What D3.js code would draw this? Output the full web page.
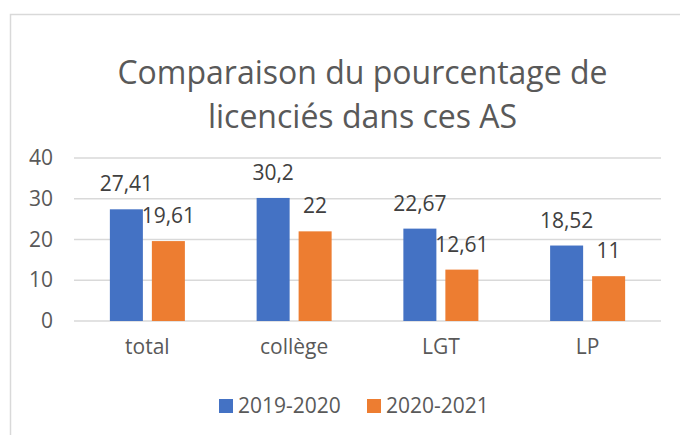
<!DOCTYPE html>
<html>
<head>
<meta charset="utf-8">
<script src="https://cdn.jsdelivr.net/npm/d3@7"></script>
<style>
  body { margin: 0; background: #fff; }
  text { font-family: "Open Sans", sans-serif; }
</style>
</head>
<body>
<script>
// data
const categories = ["total", "collège", "LGT", "LP"];
const seriesNames = ["2019-2020", "2020-2021"];
const values2019 = [27.41, 30.2, 22.67, 18.52];
const values2020 = [19.61, 22, 12.61, 11];
const labels2019 = ["27,41", "30,2", "22,67", "18,52"];
const labels2020 = ["19,61", "22", "12,61", "11"];
const yTicks = [0, 10, 20, 30, 40];
const titleLines = ["Comparaison du pourcentage de", "licenciés dans ces AS"];

const colours = ["#4472C4", "#ED7D31"];
const w = 680, h = 435;
const plotLeft = 74, plotRight = 661, plotTop = 158, plotBottom = 321;
const fs = "21px";

const rows = categories.map((c, i) => ({
  cat: c,
  vals: [
    {s: 0, v: values2019[i], lab: labels2019[i]},
    {s: 1, v: values2020[i], lab: labels2020[i]}
  ]
}));

const svg = d3.select("body").append("svg")
  .attr("width", w)
  .attr("height", h);

// chart frame (runs off the right and bottom edges)
svg.append("rect")
  .attr("x", 10.5).attr("y", 14.5)
  .attr("width", 700).attr("height", 460)
  .attr("fill", "none")
  .attr("stroke", "#d9d9d9")
  .attr("stroke-width", 1.5);

svg.append("g").selectAll("text")
  .data(titleLines)
  .join("text")
    .attr("x", (plotLeft + plotRight) / 2 - 5)
    .attr("y", (d, i) => 84 + i * 44)
    .attr("text-anchor", "middle")
    .attr("fill", "#595959")
    .style("font-size", "32px")
    .text(d => d);

const x0 = d3.scaleBand().domain(categories).range([plotLeft, plotRight]);
const x1 = d3.scaleBand().domain([0, 1]).range([0, x0.bandwidth()])
  .paddingInner(0.214).paddingOuter(0.854);
const y = d3.scaleLinear().domain([0, 40]).range([plotBottom, plotTop]);

// gridlines
svg.append("g").selectAll("line")
  .data(yTicks)
  .join("line")
    .attr("x1", plotLeft).attr("x2", plotRight)
    .attr("y1", d => y(d)).attr("y2", d => y(d))
    .attr("stroke", "#d9d9d9")
    .attr("stroke-width", 1.5);

// y axis labels
const yAxis = svg.append("g")
  .attr("transform", "translate(" + plotLeft + ",0)")
  .call(d3.axisLeft(y).tickValues(yTicks).tickSize(0).tickPadding(21));
yAxis.select(".domain").remove();
yAxis.selectAll("text")
  .attr("fill", "#595959")
  .style("font-size", fs)
  .style("font-family", "Open Sans");

// x axis labels
const xAxis = svg.append("g")
  .attr("transform", "translate(0," + plotBottom + ")")
  .call(d3.axisBottom(x0).tickSize(0).tickPadding(18));
xAxis.select(".domain").remove();
xAxis.selectAll("text")
  .attr("fill", "#595959")
  .style("font-size", fs)
  .style("font-family", "Open Sans");

const groups = svg.append("g").selectAll("g")
  .data(rows)
  .join("g")
    .attr("transform", d => "translate(" + x0(d.cat) + ",0)");

groups.selectAll("rect")
  .data(d => d.vals)
  .join("rect")
    .attr("x", d => x1(d.s))
    .attr("y", d => y(d.v))
    .attr("width", x1.bandwidth())
    .attr("height", d => y(0) - y(d.v))
    .attr("fill", d => colours[d.s]);

groups.selectAll("text.lab")
  .data(d => d.vals)
  .join("text")
    .attr("class", "lab")
    .attr("x", d => x1(d.s) + x1.bandwidth() / 2)
    .attr("y", d => y(d.v) - 18)
    .attr("text-anchor", "middle")
    .attr("fill", "#404040")
    .style("font-size", fs)
    .text(d => d.lab);

// legend
const legendX = [219, 367];
const legend = svg.append("g").selectAll("g")
  .data(seriesNames)
  .join("g")
    .attr("transform", (d, i) => "translate(" + legendX[i] + ",399)");
legend.append("rect")
  .attr("width", 14).attr("height", 14)
  .attr("fill", (d, i) => colours[i]);
legend.append("text")
  .attr("x", 19).attr("y", 14)
  .attr("fill", "#595959")
  .style("font-size", fs)
  .text(d => d);
</script>
</body>
</html>
